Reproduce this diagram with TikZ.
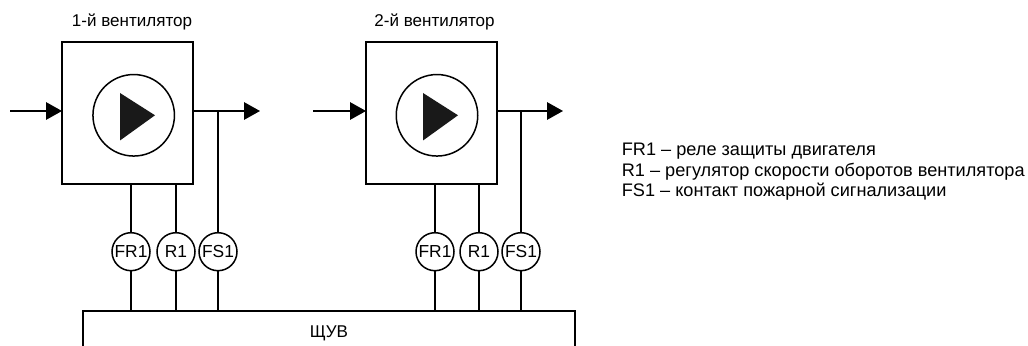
\documentclass[tikz,border=0pt]{standalone}
\usepackage{fontspec}
\setmainfont{Liberation Sans}
\usetikzlibrary{arrows.meta}
\begin{document}
\begin{tikzpicture}[
    box/.style={draw, line width=0.03cm, minimum width=2.62cm, minimum height=2.84cm, outer sep=0pt},
    fan/.style={draw, circle, line width=0.03cm, minimum size=1.63cm, inner sep=0pt, outer sep=0pt},
    relay/.style={draw, circle, line width=0.03cm, minimum size=0.76cm, inner sep=0pt, outer sep=0pt, font=\fontsize{9.9}{12}\selectfont},
    label/.style={font=\fontsize{9.7}{12}\selectfont},
    line/.style={line width=0.03cm},
    arr/.style={-{Triangle[length=0.32cm, width=0.35cm]}, line width=0.03cm},
    tri/.style={fill=black!90}
]
    \clip (0,0) rectangle (20.56,6.9);

    % Control panel
    \node[box, minimum width=9.84cm, minimum height=0.88cm, label] (panel) at (6.58,0.24) {ЩУВ};

    % First fan
    \node[label] (title1) at (2.64,6.46) {1-й вентилятор};
    \node[box] (box1) at (2.55,4.64) {};
    \node[fan] (fan1) at (2.674,4.594) {};
    \fill[tri] (2.40,5.04) -- (3.10,4.594) -- (2.40,4.09) -- cycle;
    \coordinate (in1) at (0.2,4.68);
    \coordinate (out1) at (5.2,4.68);
    \draw[arr] (in1) -- (in1 -| box1.west);
    \draw[arr] (out1 -| box1.east) -- (out1);

    % Relays of the first fan
    \node[relay] (fr1a) at (2.62,1.866) {FR1};
    \node[relay] (r1a) at (3.52,1.866) {R1};
    \node[relay] (fs1a) at (4.36,1.866) {FS1};
    \draw[line] (fr1a) -- (fr1a |- box1.south);
    \draw[line] (r1a) -- (r1a |- box1.south);
    \draw[line] (fs1a) -- (fs1a |- out1);
    \draw[line] (fr1a) -- (fr1a |- panel.north);
    \draw[line] (r1a) -- (r1a |- panel.north);
    \draw[line] (fs1a) -- (fs1a |- panel.north);

    % Second fan
    \node[label] (title2) at (8.69,6.46) {2-й вентилятор};
    \node[box] (box2) at (8.63,4.64) {};
    \node[fan] (fan2) at (8.74,4.594) {};
    \fill[tri] (8.46,5.04) -- (9.16,4.594) -- (8.46,4.09) -- cycle;
    \coordinate (in2) at (6.26,4.68);
    \coordinate (out2) at (11.26,4.68);
    \draw[arr] (in2) -- (in2 -| box2.west);
    \draw[arr] (out2 -| box2.east) -- (out2);

    % Relays of the second fan
    \node[relay] (fr1b) at (8.70,1.866) {FR1};
    \node[relay] (r1b) at (9.58,1.866) {R1};
    \node[relay] (fs1b) at (10.42,1.866) {FS1};
    \draw[line] (fr1b) -- (fr1b |- box2.south);
    \draw[line] (r1b) -- (r1b |- box2.south);
    \draw[line] (fs1b) -- (fs1b |- out2);
    \draw[line] (fr1b) -- (fr1b |- panel.north);
    \draw[line] (r1b) -- (r1b |- panel.north);
    \draw[line] (fs1b) -- (fs1b |- panel.north);

    % Legend
    \node[anchor=west, align=left, inner sep=0pt, font=\fontsize{10.33}{11.6}\selectfont] (legend) at (12.43,3.46) {FR1 – реле защиты двигателя\\R1 – регулятор скорости оборотов вентилятора\\FS1 – контакт пожарной сигнализации};
\end{tikzpicture}
\end{document}
